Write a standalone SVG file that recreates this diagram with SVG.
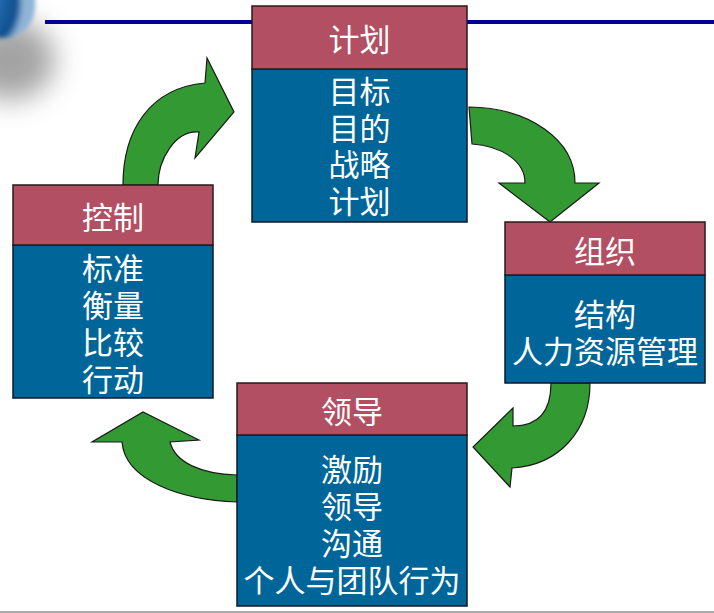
<svg xmlns="http://www.w3.org/2000/svg" width="714" height="613" viewBox="0 0 714 613">
  <defs>
    <radialGradient id="ball" cx="0.2" cy="0.2" r="0.8">
      <stop offset="0" stop-color="#6aa6d8"/>
      <stop offset="0.6" stop-color="#2b73b8"/>
      <stop offset="0.9" stop-color="#0d4f8f"/>
      <stop offset="1" stop-color="#8fb4d6"/>
    </radialGradient>
    <filter id="blur" x="-50%" y="-50%" width="200%" height="200%">
      <feGaussianBlur stdDeviation="14"/>
    </filter>
    <filter id="blur2" x="-50%" y="-50%" width="200%" height="200%">
      <feGaussianBlur stdDeviation="2"/>
    </filter>
  </defs>
  <style>
    .hdr { fill: #b34f63; stroke: #2a1a1a; stroke-width: 1.5; }
    .body { fill: #006699; stroke: #0a1a2a; stroke-width: 1.5; }
    .t { fill: #ffffff; font-family: "Liberation Sans", "Noto Sans CJK SC", sans-serif; font-size: 31px; text-anchor: middle; }
    .arr { fill: #339933; stroke: #1a1a1a; stroke-width: 1.2; stroke-linejoin: miter; }
  </style>
  <rect width="714" height="613" fill="#ffffff"/>
  <g id="corner">
    <ellipse cx="10" cy="60" rx="45" ry="40" fill="#9a9a9a" filter="url(#blur)" opacity="0.9"/>
    <ellipse cx="-12" cy="-12" rx="40" ry="56" transform="rotate(-40 -12 -12)" fill="url(#ball)" filter="url(#blur2)"/>
  </g>
  <line x1="45" y1="22" x2="714" y2="22" stroke="#000099" stroke-width="4"/>
  <line x1="0" y1="612" x2="714" y2="612" stroke="#aaaaaa" stroke-width="2"/>

  <g id="connectors">
    <path class="arr" d="M123,185 C123,130 150,88 205,83 L207,58 L234,112 L195,158 L199,132 C175,130 158,160 158,185 Z"/>
    <path class="arr" d="M469,107 C530,108 575,140 575,183 L599,183 L550,222 L499,183 L525,183 C525,160 500,146 472,144 Z"/>
    <path class="arr" d="M551,383 C551,410 540,426 513,426 L513,408 L473,447 L510,487 L512,468 C560,465 590,430 590,383 Z"/>
    <path class="arr" d="M237,502 C180,500 125,480 122,442 L92,442 L143,412 L199,440 L170,442 C175,462 200,474 237,475 Z"/>
  </g>

  <g id="plan">
    <rect class="body" x="252" y="69" width="215" height="153"/>
    <rect class="hdr" x="252" y="6" width="215" height="63"/>
    <text class="t" x="359.5" y="51">计划</text>
    <text class="t" x="359.5" y="103"><tspan x="359.5">目标</tspan><tspan x="359.5" dy="36.5">目的</tspan><tspan x="359.5" dy="36.5">战略</tspan><tspan x="359.5" dy="36.5">计划</tspan></text>
  </g>

  <g id="control">
    <rect class="body" x="13" y="245" width="200" height="153"/>
    <rect class="hdr" x="13" y="185" width="200" height="60"/>
    <text class="t" x="113" y="228.5">控制</text>
    <text class="t" x="113" y="279.5"><tspan x="113">标准</tspan><tspan x="113" dy="37">衡量</tspan><tspan x="113" dy="37">比较</tspan><tspan x="113" dy="37">行动</tspan></text>
  </g>

  <g id="organize">
    <rect class="body" x="505" y="275" width="200" height="108"/>
    <rect class="hdr" x="505" y="222" width="200" height="53"/>
    <text class="t" x="605" y="262.5">组织</text>
    <text class="t" x="605" y="326"><tspan x="605">结构</tspan><tspan x="605" dy="36.5">人力资源管理</tspan></text>
  </g>

  <g id="lead">
    <rect class="body" x="237" y="435" width="230" height="171"/>
    <rect class="hdr" x="237" y="383" width="230" height="52"/>
    <text class="t" x="352" y="422.5">领导</text>
    <text class="t" x="352" y="481"><tspan x="352">激励</tspan><tspan x="352" dy="37">领导</tspan><tspan x="352" dy="37">沟通</tspan><tspan x="352" dy="37">个人与团队行为</tspan></text>
  </g>
</svg>
